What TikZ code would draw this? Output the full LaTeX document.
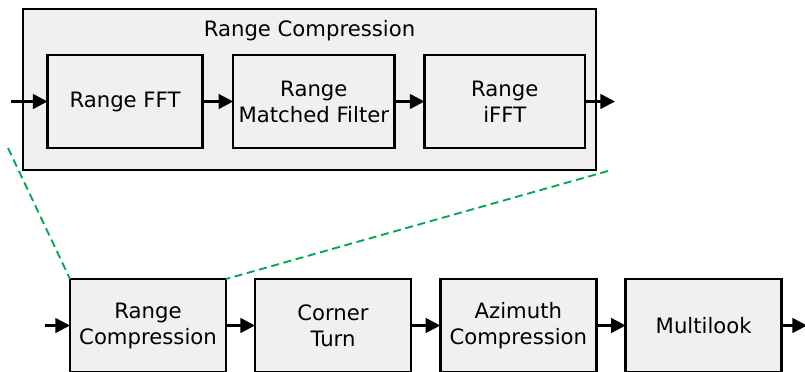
\documentclass[tikz,border=0pt]{standalone}
\usepackage{fontspec}
\setmainfont{DejaVu Sans}
\usetikzlibrary{arrows.meta,positioning,fit,backgrounds,calc}
\pgfdeclarelayer{bg}
\pgfsetlayers{bg,main}
\usepackage{xcolor}
\definecolor{blockfill}{RGB}{240,240,240}
\definecolor{zoomgreen}{RGB}{0,168,80}

\begin{document}
\begin{tikzpicture}[
  x=0.75pt, y=-0.75pt,
  font=\fontsize{15.9}{19.5}\selectfont,
  box/.style={draw, fill=blockfill, line width=1.9pt, align=center, inner sep=3pt,
    outer sep=0pt, minimum width=117pt, minimum height=69.75pt},
  group/.style={draw, fill=blockfill, line width=1.9pt, inner sep=0pt, outer sep=0pt},
  arrow/.style={-{Triangle[length=11pt,width=11pt]}, line width=1.9pt},
  zoom/.style={draw=zoomgreen, line width=1.4pt, dash pattern=on 6pt off 3.5pt}
]
\useasboundingbox (0,0) rectangle (805,371);

% detail of the range compression stage
\node[box, minimum width=116.25pt] (fft) at (125,101.5) {Range FFT};
\node[box, minimum width=121pt, right=23pt of fft] (mf) {Range\\Matched Filter};
\node[box, minimum width=120.4pt, right=22.5pt of mf] (ifft) {Range\\iFFT};

\coordinate (gnw) at ($(fft.north west)+(-24.5,-46)$);
\coordinate (gse) at ($(ifft.south east)+(11,22)$);
\begin{pgfonlayer}{bg}
  \node[group, fit=(gnw)(gse)] (detail) {};
\end{pgfonlayer}
\node[anchor=base] (title) at ($(detail.north)+(0,27)$) {Range Compression};

\coordinate (in1) at (11,101.5);
\coordinate (out1) at (615,101.5);
\draw[arrow] (in1) -- (fft);
\draw[arrow] (fft) -- (mf);
\draw[arrow] (mf) -- (ifft);
\draw[arrow] (ifft) -- (out1);

% processing chain
\node[box] (rc) at (148,325.5) {Range\\Compression};
\node[box, right=21.75pt of rc] (ct) {Corner\\Turn};
\node[box, right=22pt of ct] (ac) {Azimuth\\Compression};
\node[box, right=22pt of ac] (ml) {Multilook};

\coordinate (in2) at (45,325.5);
\coordinate (out2) at (807,325.5);
\draw[arrow] (in2) -- (rc);
\draw[arrow] (rc) -- (ct);
\draw[arrow] (ct) -- (ac);
\draw[arrow] (ac) -- (ml);
\draw[arrow] (ml) -- (out2);

% zoom lines
\coordinate (z1) at (8,148);
\coordinate (z2) at (608,171);
\draw[zoom] (z1) -- (rc.north west);
\draw[zoom] (z2) -- (rc.north east);
\end{tikzpicture}
\end{document}
